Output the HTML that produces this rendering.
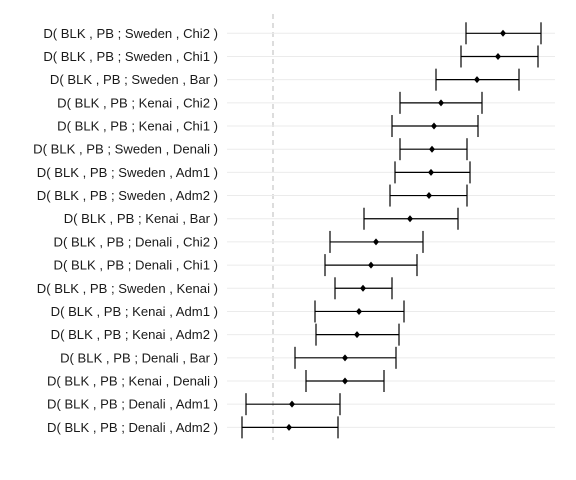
<!DOCTYPE html>
<html><head><meta charset="utf-8"><style>
body{margin:0;background:#fff}
svg{display:block}
text{font-family:"Liberation Sans",sans-serif;font-size:13.1px;fill:#1a1a1a}
</style></head><body>
<svg id="chart" width="576" height="480">
<line x1="273" y1="14" x2="273" y2="440" stroke="#bbb" stroke-dasharray="5,4"/>
<g id="g"></g>
</svg>
<script>
const labels=["D( BLK , PB ; Sweden , Chi2 )","D( BLK , PB ; Sweden , Chi1 )","D( BLK , PB ; Sweden , Bar )","D( BLK , PB ; Kenai , Chi2 )","D( BLK , PB ; Kenai , Chi1 )","D( BLK , PB ; Sweden , Denali )","D( BLK , PB ; Sweden , Adm1 )","D( BLK , PB ; Sweden , Adm2 )","D( BLK , PB ; Kenai , Bar )","D( BLK , PB ; Denali , Chi2 )","D( BLK , PB ; Denali , Chi1 )","D( BLK , PB ; Sweden , Kenai )","D( BLK , PB ; Kenai , Adm1 )","D( BLK , PB ; Kenai , Adm2 )","D( BLK , PB ; Denali , Bar )","D( BLK , PB ; Kenai , Denali )","D( BLK , PB ; Denali , Adm1 )","D( BLK , PB ; Denali , Adm2 )"];
const estimates=[0.230,0.225,0.204,0.168,0.161,0.159,0.158,0.156,0.137,0.103,0.098,0.090,0.086,0.084,0.072,0.072,0.019,0.016];
const lower=[0.193,0.188,0.163,0.127,0.119,0.127,0.122,0.117,0.091,0.057,0.052,0.062,0.042,0.043,0.022,0.033,-0.027,-0.031];
const upper=[0.268,0.265,0.246,0.209,0.205,0.194,0.197,0.194,0.185,0.150,0.144,0.119,0.131,0.126,0.123,0.111,0.067,0.065];
const x=v=>273+v*1000;
const y=i=>33.3+i*23.18;
const g=document.getElementById('g');
const NS='http://www.w3.org/2000/svg';
function mk(t,a){const e=document.createElementNS(NS,t);for(const k in a)e.setAttribute(k,a[k]);g.appendChild(e);return e;}
labels.forEach((lab,i)=>{
  const yy=y(i);
  const gl=mk('line',{x1:227,x2:555,y1:yy,y2:yy,stroke:'#ebebeb'});
  
  
  const t=mk('text',{x:218,y:yy+4.5,'text-anchor':'end'});t.textContent=lab;
  
  
  const l=mk('line',{x1:x(lower[i]),x2:x(upper[i]),y1:yy,y2:yy,stroke:'#000','stroke-width':1.2});
  
  
  [lower[i],upper[i]].forEach(v=>{
    const c=mk('line',{x1:x(v),x2:x(v),y1:yy-11,y2:yy+11,stroke:'#000','stroke-width':1.2});
    
    
  });
  const cx=x(estimates[i]);
  const p=mk('polygon',{points:`${cx},${yy-3.5} ${cx+3},${yy} ${cx},${yy+3.5} ${cx-3},${yy}`,fill:'#000'});
  
  
});
</script>
</body></html>
